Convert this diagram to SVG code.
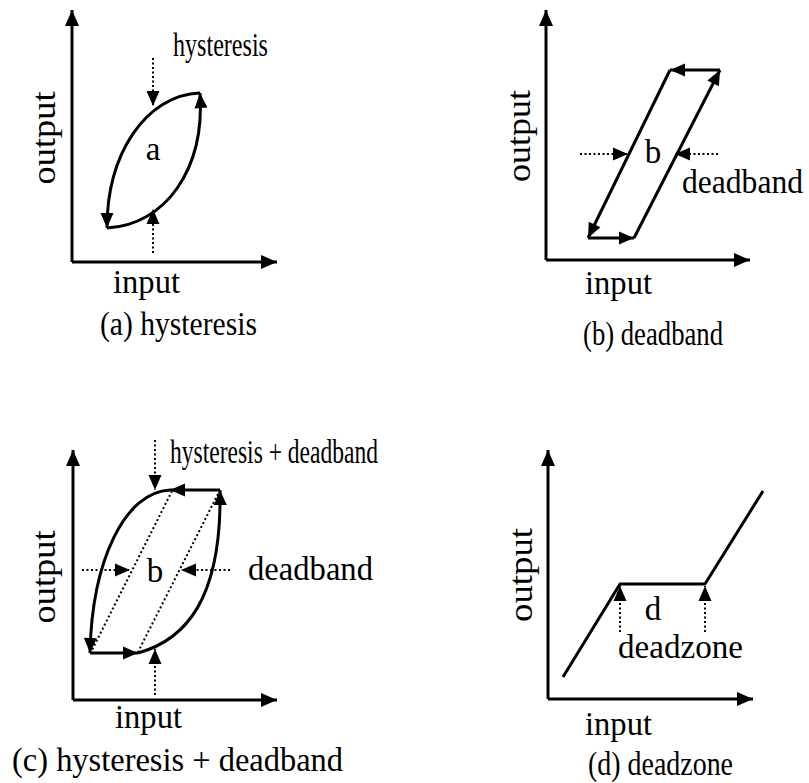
<svg xmlns="http://www.w3.org/2000/svg" width="809" height="783" viewBox="0 0 809 783">
<defs>
<marker id="ah" markerUnits="userSpaceOnUse" markerWidth="17" markerHeight="14" refX="16" refY="7" orient="auto" overflow="visible">
<path d="M0,0 L16,7 L0,14 z" fill="#000"/>
</marker>
<marker id="ahs" markerUnits="userSpaceOnUse" markerWidth="15" markerHeight="13" refX="15" refY="6.5" orient="auto" overflow="visible">
<path d="M0,0 L15,6.5 L0,13 z" fill="#000"/>
</marker>
</defs>
<style>
.ax{fill:none;stroke:#000;stroke-width:3;marker-end:url(#ah)}
.cv{fill:none;stroke:#000;stroke-width:3;stroke-linejoin:round}
.ar{marker-end:url(#ahs)}
.dt{fill:none;stroke:#000;stroke-width:2;stroke-dasharray:2 2.5;marker-end:url(#ahs)}
text{font-family:"Liberation Serif","Times New Roman",serif;font-size:33px;fill:#000}
</style>
<rect width="809" height="783" fill="#fff"/>

<g id="panel-a">
<g id="axes-a">
<path class="ax" d="M72,262 L72,10"/>
<path class="ax" d="M72,262 L277,262"/>
</g>
<g id="loop-a">
<path class="cv ar" d="M107,228 C165,225 205,170 200,93"/>
<path class="cv ar" d="M200,93 C145,95 107,155 107,228"/>
</g>
<g id="labels-a">
<text x="173" y="56" textLength="95" lengthAdjust="spacingAndGlyphs">hysteresis</text>
<text x="153" y="160" text-anchor="middle">a</text>
<text transform="translate(55,138) rotate(-90)" text-anchor="middle" textLength="93" lengthAdjust="spacingAndGlyphs">output</text>
<text x="113" y="293" textLength="67" lengthAdjust="spacingAndGlyphs">input</text>
<text x="100" y="335" textLength="157" lengthAdjust="spacingAndGlyphs">(a) hysteresis</text>
</g>
</g>

<g id="panel-b">
<g id="axes-b">
<path class="ax" d="M546,260 L546,10"/>
<path class="ax" d="M546,260 L750,260"/>
</g>
<g id="loop-b">
<path class="cv ar" d="M588,238 L634,238"/>
<path class="cv ar" d="M634,238 L720,70"/>
<path class="cv ar" d="M720,70 L670,70"/>
<path class="cv ar" d="M670,70 L588,238"/>
</g>
<g id="labels-b">
<text x="653" y="163" text-anchor="middle">b</text>
<text x="682" y="193" textLength="121" lengthAdjust="spacingAndGlyphs">deadband</text>
<text transform="translate(530,136) rotate(-90)" text-anchor="middle" textLength="92" lengthAdjust="spacingAndGlyphs">output</text>
<text x="585" y="294" textLength="67" lengthAdjust="spacingAndGlyphs">input</text>
<text x="583" y="345" textLength="140" lengthAdjust="spacingAndGlyphs">(b) deadband</text>
</g>
</g>

<g id="panel-c">
<g id="axes-c">
<path class="ax" d="M73,700 L73,450"/>
<path class="ax" d="M73,700 L277,700"/>
</g>
<g id="loop-c">
<path class="cv ar" d="M220,490 L170,490"/>
<path class="cv ar" d="M170,490 C125,492 92,560 90,653"/>
<path class="cv ar" d="M90,653 L138,653"/>
<path class="cv ar" d="M138,653 C185,640 222,600 220,490"/>
</g>
<g id="labels-c">
<text x="170" y="463" textLength="208" lengthAdjust="spacingAndGlyphs">hysteresis + deadband</text>
<text x="155" y="582" text-anchor="middle">b</text>
<text x="248" y="580" textLength="125" lengthAdjust="spacingAndGlyphs">deadband</text>
<text transform="translate(55,577) rotate(-90)" text-anchor="middle" textLength="93" lengthAdjust="spacingAndGlyphs">output</text>
<text x="115" y="728" textLength="67" lengthAdjust="spacingAndGlyphs">input</text>
<text x="12" y="771" textLength="331" lengthAdjust="spacingAndGlyphs">(c) hysteresis + deadband</text>
</g>
</g>

<g id="panel-d">
<g id="axes-d">
<path class="ax" d="M548,699 L548,450"/>
<path class="ax" d="M548,699 L753,699"/>
</g>
<g id="curve-d">
<path class="cv" d="M563,677 L620,584 L705,584 L763,491"/>
</g>
<g id="labels-d">
<text x="653" y="620" text-anchor="middle">d</text>
<text x="618" y="658" textLength="125" lengthAdjust="spacingAndGlyphs">deadzone</text>
<text transform="translate(532,575) rotate(-90)" text-anchor="middle" textLength="94" lengthAdjust="spacingAndGlyphs">output</text>
<text x="585" y="735" textLength="67" lengthAdjust="spacingAndGlyphs">input</text>
<text x="588" y="775" textLength="145" lengthAdjust="spacingAndGlyphs">(d) deadzone</text>
</g>
</g>

<g id="connectors">
<path class="dt" d="M153,58 L153,106"/>
<path class="dt" d="M153,253 L153,209"/>
<path class="dt" d="M580,154 L628,154"/>
<path class="dt" d="M718,154 L675,154"/>
<path class="dt" d="M155,440 L155,490"/>
<path class="dt" d="M155,695 L155,649"/>
<path class="dt" d="M82,570 L130,570"/>
<path class="dt" d="M230,570 L181,570"/>
<path fill="none" stroke="#000" stroke-width="2" stroke-dasharray="2 2.5" d="M172,491 L91,652"/>
<path fill="none" stroke="#000" stroke-width="2" stroke-dasharray="2 2.5" d="M220,490 L138,652"/>
<path class="dt" d="M620,632 L620,586"/>
<path class="dt" d="M705,632 L705,586"/>
</g>
</svg>
